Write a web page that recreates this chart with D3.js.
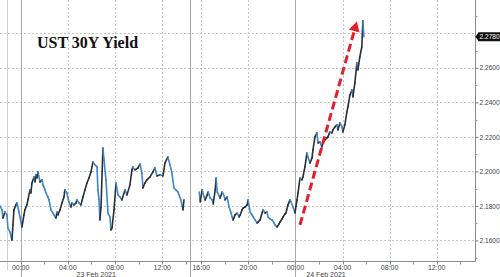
<!DOCTYPE html>
<html><head><meta charset="utf-8">
<script src="https://cdn.jsdelivr.net/npm/d3@7"></script>
<style>body{margin:0;background:#fff}svg{display:block}</style>
</head><body><svg id="c" width="500" height="277"></svg>
<script>
// ---- data (hours from 23 Feb 2021 00:00, yield %) ----
const title = "UST 30Y Yield";
const t1 = [-1.75,-1.58,-1.50,-1.33,-1.16,-1.08,-0.91,-0.74,-0.65,-0.57,-0.40,-0.31,-0.14,-0.06,0.11,0.28,0.36,0.53,0.62,0.79,0.87,0.96,1.13,1.21,1.30,1.38,1.47,1.64,1.81,1.89,2.06,2.14,2.31,2.40,2.57,2.74,2.82,2.99,3.08,3.16,3.33,3.50,3.67,3.75,3.92,4.09,4.26,4.35,4.52,4.69,4.77,4.94,5.11,5.28,5.45,5.62,5.79,5.96,6.13,6.30,6.47,6.55,6.64,6.72,6.81,6.97,7.06,7.23,7.40,7.57,7.65,7.74,7.91,8.08,8.25,8.42,8.58,8.84,9.01,9.26,9.43,9.51,9.69,9.94,10.11,10.28,10.36,10.53,10.70,10.96,11.21,11.38,11.55,11.81,12.06,12.23,12.48,12.65,12.82,12.99,13.16,13.33,13.58,13.75,13.84];
const v1 = [2.1800,2.1777,2.1730,2.1765,2.1748,2.1672,2.1649,2.1603,2.1690,2.1777,2.1806,2.1817,2.1765,2.1736,2.1678,2.1748,2.1777,2.1806,2.1835,2.1893,2.1875,2.1933,2.1968,2.1939,2.1980,2.1962,2.1997,2.1939,2.1951,2.1922,2.1893,2.1875,2.1852,2.1835,2.1777,2.1759,2.1748,2.1730,2.1765,2.1748,2.1777,2.1817,2.1852,2.1893,2.1875,2.1823,2.1794,2.1817,2.1806,2.1817,2.1835,2.1817,2.1806,2.1852,2.1893,2.1933,2.1962,2.1997,2.2055,2.2038,2.2026,2.1893,2.1835,2.1719,2.1794,2.2136,2.2067,2.1951,2.1759,2.1736,2.1661,2.1672,2.1777,2.1933,2.1864,2.1852,2.1835,2.1893,2.1864,2.1922,2.2009,2.2026,2.2009,2.2020,2.2043,2.1991,2.1904,2.1933,2.1951,2.1968,2.1997,2.2020,2.1974,2.1980,2.1974,2.2049,2.2084,2.2038,2.1991,2.1904,2.1893,2.1881,2.1835,2.1777,2.1835];
const t2 = [15.83,15.92,16.08,16.25,16.34,16.51,16.59,16.76,16.93,17.02,17.19,17.27,17.36,17.53,17.61,17.78,17.95,18.03,18.20,18.37,18.54,18.63,18.71,18.88,19.05,19.22,19.31,19.47,19.56,19.73,19.90,19.98,20.15,20.32,20.41,20.58,20.75,20.83,21.00,21.17,21.25,21.42,21.59,21.68,21.85,22.02,22.19,22.27,22.44,22.61,22.69,22.86,22.95,23.12,23.20,23.37,23.54,23.63,23.80,23.97,24.05,24.14,24.22,24.39,24.56,24.64,24.81,24.98,25.07,25.24,25.41,25.49,25.66,25.83,25.92,26.08,26.25,26.34,26.51,26.68,26.76,26.93,27.10,27.19,27.36,27.53,27.61,27.78,27.95,28.03,28.20,28.37,28.46,28.63,28.80,28.88,29.05,29.22,29.31,29.47,29.64,29.73,29.81];
const v2 = [2.1881,2.1823,2.1893,2.1852,2.1835,2.1864,2.1881,2.1846,2.1835,2.1812,2.1893,2.1962,2.1881,2.1858,2.1846,2.1881,2.1858,2.1835,2.1852,2.1794,2.1759,2.1736,2.1719,2.1748,2.1759,2.1736,2.1748,2.1777,2.1788,2.1794,2.1806,2.1835,2.1765,2.1748,2.1736,2.1719,2.1701,2.1707,2.1719,2.1759,2.1777,2.1759,2.1765,2.1736,2.1725,2.1719,2.1701,2.1690,2.1678,2.1696,2.1707,2.1725,2.1736,2.1754,2.1759,2.1806,2.1835,2.1823,2.1794,2.1759,2.1800,2.1835,2.1875,2.1962,2.1951,2.1968,2.2026,2.2107,2.2084,2.2049,2.2078,2.2125,2.2200,2.2223,2.2165,2.2171,2.2142,2.2165,2.2183,2.2194,2.2200,2.2229,2.2223,2.2241,2.2258,2.2270,2.2241,2.2281,2.2258,2.2229,2.2270,2.2345,2.2374,2.2443,2.2472,2.2432,2.2513,2.2629,2.2588,2.2664,2.2722,2.2873,2.2780];
const yGridTicks = [2.16,2.18,2.20,2.22,2.24,2.26,2.28];
const yLabelTicks = [2.16,2.18,2.20,2.22,2.24,2.26];
const xLabelHours = [0,4,8,12,16,20,24,28,32,36];
const dayLabels = [{h:6.4, text:"23 Feb 2021"},{h:26.6, text:"24 Feb 2021"}];
const separators = [-1.16, 0, 14.35, 24];
const arrowFrom = {t:24.39, v:2.1690};
const arrowTo = {t:29.22, v:2.2869};

// ---- scales ----
const R = 475.5, B = 261.5;
const x = d3.scaleLinear().domain([-1.75, 14.35, 15.05, 39.25]).range([0, 190, 190, 475]);
const y = d3.scaleLinear().domain([2.1481, 2.2993]).range([261, 0]);
const svg = d3.select("#c");
const px = v => Math.round(v) + 0.5;

// grid
const g = svg.append("g");
g.selectAll(".hg").data(yGridTicks).join("line")
  .attr("x1", 0).attr("x2", R).attr("y1", d => px(y(d))).attr("y2", d => px(y(d)))
  .attr("stroke", "#c4c4c4").attr("stroke-dasharray", "2,2");
g.selectAll(".vg").data(xLabelHours.filter(h => h % 24 !== 0)).join("line")
  .attr("x1", d => px(x(d))).attr("x2", d => px(x(d))).attr("y1", 0).attr("y2", B)
  .attr("stroke", "#c4c4c4").attr("stroke-dasharray", "2,2");
g.selectAll(".sep").data(separators).join("line")
  .attr("x1", d => px(x(d))).attr("x2", d => px(x(d))).attr("y1", 0)
  .attr("y2", (d, i) => i === 0 ? 270 : 277)
  .attr("stroke", (d, i) => i === 0 ? "#d0d0d0" : "#a8a8a8").attr("stroke-width", 1);

// series
function drawSeries(ts, vs) {
  const pts = ts.map((t, i) => [x(t), y(vs[i])]);
  for (let i = 1; i < pts.length; i++) {
    const up = vs[i] >= vs[i - 1];
    svg.append("line")
      .attr("x1", pts[i - 1][0]).attr("y1", pts[i - 1][1])
      .attr("x2", pts[i][0]).attr("y2", pts[i][1])
      .attr("stroke", up ? "#2a2f35" : "#3f86c8")
      .attr("stroke-width", 1.6).attr("stroke-linecap", "round");
  }
}
drawSeries(t1, v1);
drawSeries(t2, v2);

// arrow
const ax0 = x(arrowFrom.t), ay0 = y(arrowFrom.v), ax1 = x(arrowTo.t), ay1 = y(arrowTo.v);
const len = Math.hypot(ax1 - ax0, ay1 - ay0), ux = (ax1 - ax0) / len, uy = (ay1 - ay0) / len;
const hl = 10, hw = 5.5;
const bx = ax1 - ux * hl, by = ay1 - uy * hl;
svg.append("line").attr("x1", ax0).attr("y1", ay0).attr("x2", bx + ux * 2).attr("y2", by + uy * 2)
  .attr("stroke", "#e0202c").attr("stroke-width", 3).attr("stroke-dasharray", "8,4");
svg.append("polygon")
  .attr("points", [[ax1, ay1], [bx - uy * hw, by + ux * hw], [bx + uy * hw, by - ux * hw]].map(p => p.join(",")).join(" "))
  .attr("fill", "#e0202c");

// axes
svg.append("line").attr("x1", 0).attr("x2", R).attr("y1", B).attr("y2", B).attr("stroke", "#8c8c8c");
svg.append("line").attr("x1", R).attr("x2", R).attr("y1", 0).attr("y2", B).attr("stroke", "#8c8c8c");
const minorX = d3.range(0, 40, 2).filter(h => h < 14.35 || h > 15.05);
svg.selectAll(".xt").data(minorX).join("line")
  .attr("x1", d => px(x(d))).attr("x2", d => px(x(d))).attr("y1", B).attr("y2", B + 3)
  .attr("stroke", "#8c8c8c");
const yAxis = d3.axisRight(y).tickValues(yLabelTicks).tickSize(3).tickFormat(d3.format(".4f"));
const ya = svg.append("g").attr("transform", `translate(${R},0)`).call(yAxis);
ya.select(".domain").remove();
ya.selectAll("line").attr("stroke", "#777");
ya.selectAll("text").attr("font-family", "Liberation Sans, Arial, sans-serif").attr("font-size", 6.6).attr("fill", "#444").attr("x", 4);
const minorY = d3.range(2.15, 2.30, 0.02);
svg.selectAll(".yt").data(minorY).join("line")
  .attr("x1", R).attr("x2", R + 2).attr("y1", d => px(y(d))).attr("y2", d => px(y(d))).attr("stroke", "#999");

svg.selectAll(".xl").data(xLabelHours).join("text")
  .attr("x", d => x(d)).attr("y", 270).attr("text-anchor", "middle")
  .attr("font-family", "Liberation Sans, Arial, sans-serif").attr("font-size", 7).attr("fill", "#444")
  .text(d => String(((d % 24) + 24) % 24).padStart(2, "0") + ":00");
svg.selectAll(".dl").data(dayLabels).join("text")
  .attr("x", d => x(d.h)).attr("y", 277).attr("text-anchor", "middle")
  .attr("font-family", "Liberation Sans, Arial, sans-serif").attr("font-size", 7).attr("fill", "#444")
  .text(d => d.text);

// last value tag
const lastV = v2[v2.length - 1], ly = y(lastV);
svg.append("polygon")
  .attr("points", `${R},${ly} ${R + 3},${ly - 4.5} 500,${ly - 4.5} 500,${ly + 4.5} ${R + 3},${ly + 4.5}`)
  .attr("fill", "#111");
svg.append("text").attr("x", R + 4).attr("y", ly + 2.4)
  .attr("font-family", "Liberation Sans, Arial, sans-serif").attr("font-size", 6.6).attr("fill", "#fff")
  .text(d3.format(".4f")(lastV));

// title
svg.append("text").attr("x", 37).attr("y", 48)
  .attr("font-family", "Liberation Serif, Times New Roman, serif").attr("font-weight", "bold")
  .attr("font-size", 16).attr("fill", "#111").text(title);
</script></body></html>
